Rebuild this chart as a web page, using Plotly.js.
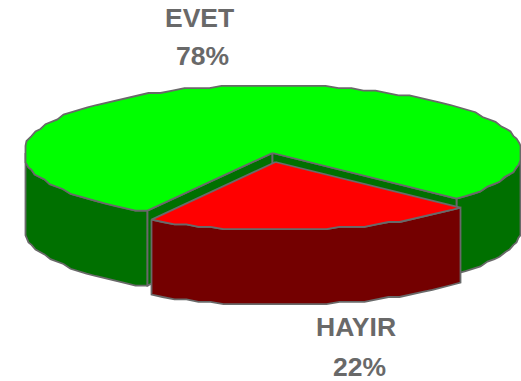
<!DOCTYPE html>
<html><head><meta charset="utf-8">
<script src="https://cdn.plot.ly/plotly-3.0.1.min.js"></script>
<style>html,body{margin:0;padding:0;background:#fff}#c{width:521px;height:381px}</style>
</head><body><div id="c"></div>
<script>
var categories = ["EVET", "HAYIR"];
var values = [78.4, 21.6];
var labelsPct = ["78%", "22%"];
var topColors = ["#00ff00", "#ff0000"];
var wallColors = ["#007000", "#740000"];
var edge = "#696969";

var cx = 272.5, cy = 153, rx = 247.5, ry = 68, depth = 75;
var offX = 4, offY = 9;
var total = values[0] + values[1];
var startDeg = -30.2;
var endDeg = startDeg + 360 * values[1] / total;

function snap(v, s) { return Math.round(v / s) * s; }
function rim(deg, dx, dy) {
  var t = deg * Math.PI / 180;
  var sx = Math.max(-1, Math.min(1, 1.008 * Math.sin(t)));
  return [cx + dx + snap(rx * sx, 1), cy + dy + snap(ry * Math.cos(t), 2.4)];
}
function arc(a, b, dx, dy) {
  var pts = [], n = Math.max(2, Math.round(Math.abs(b - a) / 3));
  for (var i = 0; i <= n; i++) pts.push(rim(a + (b - a) * i / n, dx, dy));
  return pts;
}
function poly(pts, fill) {
  pts = pts.concat([pts[0]]);
  return {
    type: "scatter", mode: "lines", x: pts.map(function (p) { return p[0]; }),
    y: pts.map(function (p) { return p[1]; }), fill: "toself", fillcolor: fill,
    line: { color: edge, width: 1.8 }, hoverinfo: "skip", showlegend: false
  };
}
function wall(a, b, dx, dy, fill) {
  var up = arc(a, b, dx, dy), down = arc(b, a, dx, dy + depth);
  return poly(up.concat(down), fill);
}
var apex = [cx, cy];
var cA = rim(startDeg, 0, 0), cB = rim(endDeg, 0, 0);
function inner(c) {
  return poly([apex, c, [c[0], c[1] + depth], [apex[0], apex[1] + depth]], wallColors[0]);
}
var traces = [
  wall(-90, startDeg, 0, 0, wallColors[0]),
  wall(endDeg, 90, 0, 0, wallColors[0]),
  inner(cA),
  inner(cB),
  poly([apex].concat(arc(endDeg, startDeg + 360, 0, 0)), topColors[0]),
  wall(startDeg, endDeg, offX, offY, wallColors[1]),
  poly([[cx + offX - 1, cy + offY]].concat(arc(startDeg, endDeg, offX, offY)), topColors[1])
];
function label(t, x, y) {
  return { text: "<b>" + t + "</b>", x: x, y: y, xref: "x", yref: "y", showarrow: false,
    xanchor: "center", yanchor: "middle",
    font: { family: "Liberation Sans, Arial, sans-serif", size: 26.5, color: edge } };
}
var layout = {
  width: 521, height: 381, margin: { l: 0, r: 0, t: 0, b: 0 },
  paper_bgcolor: "#fff", plot_bgcolor: "#fff", showlegend: false,
  xaxis: { range: [0, 521], visible: false, fixedrange: true },
  yaxis: { range: [381, 0], visible: false, fixedrange: true },
  annotations: [
    label(categories[0], 199.5, 18), label(labelsPct[0], 202, 56),
    label(categories[1], 355.5, 327), label(labelsPct[1], 359, 367)
  ]
};
Plotly.newPlot("c", traces, layout, { displayModeBar: false, staticPlot: true });
</script></body></html>
